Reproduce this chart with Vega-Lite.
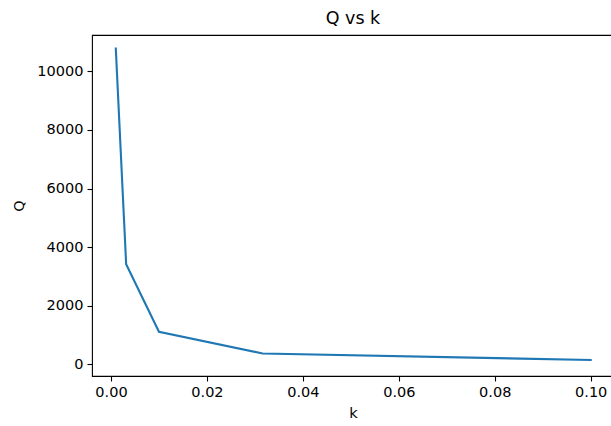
{
  "$schema": "https://vega.github.io/schema/vega-lite/v6.json",
  "autosize": {"type": "none"},
  "width": 522,
  "height": 341,
  "padding": {"left": 92, "top": 35, "right": 0, "bottom": 50},
  "background": "white",
  "title": {"text": "Q vs k", "font": "DejaVu Sans", "fontSize": 17.5, "fontWeight": "normal", "color": "#000", "offset": 8, "anchor": "middle"},
  "config": {
    "view": {"stroke": "#000", "strokeWidth": 1.1},
    "axis": {"domain": false, "grid": false, "tickColor": "#000", "tickSize": 5, "tickWidth": 1.1, "labelPadding": 4, "labelFont": "DejaVu Sans", "labelFontSize": 14.5, "labelColor": "#000", "titleFont": "DejaVu Sans", "titleFontSize": 14.5, "titleFontWeight": "normal", "titleColor": "#000", "labelFlush": false, "labelOverlap": false},
    "axisX": {"titlePadding": 8},
    "axisY": {"titlePadding": 10}
  },
  "data": {"values": [
    {"k": 0.001, "Q": 10780},
    {"k": 0.00316, "Q": 3420},
    {"k": 0.01, "Q": 1110},
    {"k": 0.0316, "Q": 370},
    {"k": 0.1, "Q": 145}
  ]},
  "mark": {"type": "line", "color": "#1f77b4", "strokeWidth": 2.1, "strokeCap": "square", "clip": true},
  "encoding": {
    "x": {"field": "k", "type": "quantitative", "title": "k",
      "scale": {"domain": [-0.00396, 0.10486], "nice": false, "zero": false},
      "axis": {"values": [0, 0.02, 0.04, 0.06, 0.08, 0.1], "format": ".2f"}},
    "y": {"field": "Q", "type": "quantitative", "title": "Q",
      "scale": {"domain": [-400, 11243], "nice": false, "zero": false},
      "axis": {"values": [0, 2000, 4000, 6000, 8000, 10000], "format": "d"}}
  }
}
